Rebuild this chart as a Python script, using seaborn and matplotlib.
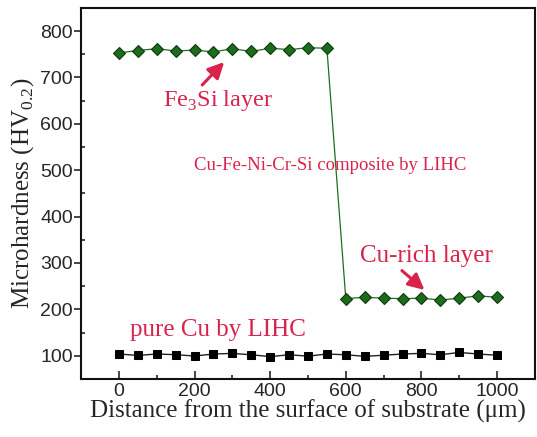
import matplotlib
matplotlib.use("Agg")
import matplotlib.pyplot as plt
import seaborn as sns
import numpy as np
import pandas as pd

distance = [0, 50, 100, 150, 200, 250, 300, 350, 400, 450, 500, 550,
            600, 650, 700, 750, 800, 850, 900, 950, 1000]
composite = [753, 758, 762, 757, 759, 755, 762, 756, 763, 760, 764, 763,
             223, 226, 224, 223, 224, 220, 224, 229, 226]
pure_cu = [103.6, 100.6, 103.6, 102.2, 99.3, 103.6, 104.9, 102, 98, 102, 99,
           103.6, 102, 98.6, 101, 103.6, 105, 102, 107, 103.6, 101]
x_ticks = [0, 200, 400, 600, 800, 1000]
y_ticks = [100, 200, 300, 400, 500, 600, 700, 800]

sns.set_theme(style="ticks")
plt.rcParams['font.family'] = ['Liberation Sans', 'DejaVu Sans']
plt.rcParams['mathtext.fontset'] = 'custom'
plt.rcParams['mathtext.rm'] = 'Liberation Serif'

fig = plt.figure(figsize=(5.37, 4.37), dpi=100)
ax = fig.add_axes([0.151, 0.133, 0.845, 0.849])

df = pd.DataFrame({"d": distance, "c": composite, "p": pure_cu})
sns.lineplot(data=df, x="d", y="c", ax=ax, color="#1f6e1f", linewidth=0.9,
             marker="D", markersize=6.5, markerfacecolor="#1d6b1d",
             markeredgecolor="#0d3a0d", markeredgewidth=0.8)
sns.lineplot(data=df, x="d", y="p", ax=ax, color="#222222", linewidth=1.0,
             marker="s", markersize=6, markerfacecolor="black",
             markeredgecolor="black")

ax.set_xlim(-100, 1100)
ax.set_ylim(50, 850)
ax.set_xticks(x_ticks)
ax.set_yticks(y_ticks)
ax.set_xticks(np.arange(-100, 1101, 100), minor=True)
ax.set_yticks(np.arange(50, 851, 50), minor=True)
ax.tick_params(axis='x', which='both', direction='in', labelsize=14, width=1.2, pad=3)
ax.tick_params(axis='x', which='major', length=6)
ax.tick_params(axis='x', which='minor', length=3)
ax.tick_params(axis='y', which='major', direction='out', labelsize=14, width=1.2,
               pad=1, length=5)
ax.tick_params(axis='y', which='minor', direction='in', width=1.2, length=3)
for s in ax.spines.values():
    s.set_linewidth(1.5)
    s.set_color("#111111")

serif = ['Liberation Serif', 'DejaVu Serif']
ax.set_xlabel("Distance from the surface of substrate (\u03bcm)", family=serif,
              fontsize=18, labelpad=0)
ax.set_ylabel(r"Microhardness (HV$_{\mathregular{0.2}}$)", family=serif,
              fontsize=18, labelpad=3)

red = "#d9234d"
def dx(px):
    return (px - 118) / 0.381
def dy(py):
    return 800 - (py - 32) / 0.4643

ax.text(dx(218), dy(102), r"Fe$_{\mathregular{3}}$Si layer", family=serif,
        fontsize=17.5, color=red, ha='center', va='center')
ax.text(dx(331), dy(167), "Cu-Fe-Ni-Cr-Si composite by LIHC", family=serif,
        fontsize=13.5, color=red, ha='center', va='center')
ax.text(dx(428), dy(257), "Cu-rich layer", family=serif,
        fontsize=18, color=red, ha='center', va='center')
ax.text(dx(218), dy(331), "pure Cu by LIHC", family=serif,
        fontsize=18, color=red, ha='center', va='center')

ax.annotate("", xy=(dx(226), dy(61)), xytext=(dx(200), dy(88)),
            arrowprops=dict(arrowstyle="-|>,head_length=0.8,head_width=0.4",
                            color=red, lw=2.2))
ax.annotate("", xy=(dx(428), dy(293)), xytext=(dx(401), dy(270)),
            arrowprops=dict(arrowstyle="-|>,head_length=0.8,head_width=0.4",
                            color=red, lw=2.2))

fig.savefig("out.png", dpi=100)
